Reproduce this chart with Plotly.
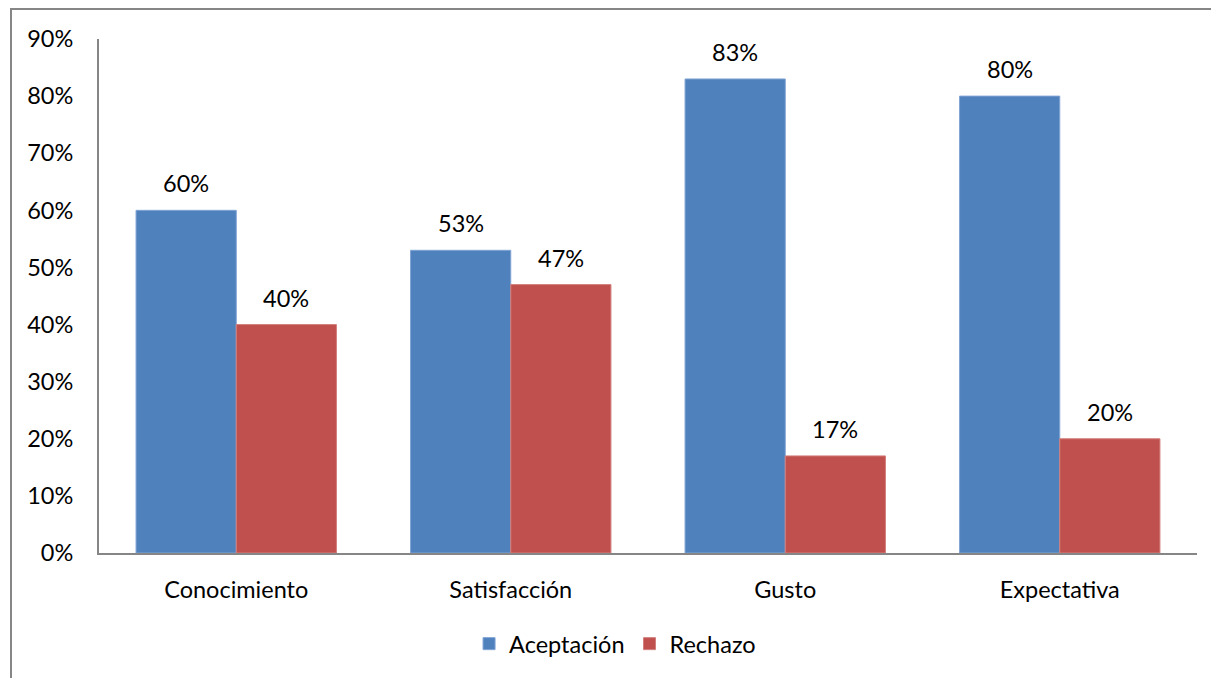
import plotly.graph_objects as go

categorias = ["Conocimiento", "Satisfacción", "Gusto", "Expectativa"]
aceptacion = [0.60, 0.53, 0.83, 0.80]
rechazo = [0.40, 0.47, 0.17, 0.20]
y_ticks = [0, 0.1, 0.2, 0.3, 0.4, 0.5, 0.6, 0.7, 0.8, 0.9]

W, H = 1211, 678
L, R, T, B = 99, 14, 39, 125
FONT = "Lato"
FS = 23.5

fig = go.Figure()
series = [("Aceptación", aceptacion, "#4F81BD", "#7FA3D3", -1),
          ("Rechazo", rechazo, "#C0504D", "#D27F7D", 1)]
for name, vals, col, edge, side in series:
    fig.add_trace(go.Bar(
        name=name, x=categorias, y=vals,
        marker=dict(color=col, line=dict(color=edge, width=1)),
    ))

pw = W - L - R
ph = H - T - B
bar_px = pw / len(categorias) * (1 - 0.27) / 2

# value labels above each bar
for name, vals, col, edge, side in series:
    for c, v in zip(categorias, vals):
        fig.add_annotation(x=c, y=v, text=f"{v:.0%}", showarrow=False,
                           xshift=side * bar_px / 2, yshift=27,
                           yanchor="middle", font=dict(size=FS, color="#000000"))

# outer chart frame
fig.add_shape(type="rect", xref="paper", yref="paper",
              x0=(11 - L) / pw, x1=(W + 5 - L) / pw,
              y0=-(H + 5 - T - ph) / ph, y1=(ph + T - 9) / ph,
              line=dict(color="#868686", width=2), layer="below")

fig.update_layout(
    width=W, height=H,
    margin=dict(l=L, r=R, t=T, b=B, autoexpand=False),
    paper_bgcolor="white", plot_bgcolor="white",
    barmode="group", bargap=0.27, bargroupgap=0,
    font=dict(family=FONT, size=FS, color="#000000"),
    showlegend=True,
    legend=dict(orientation="h", x=0.47, xanchor="center", y=-0.134, yanchor="top",
                font=dict(size=FS), itemwidth=30, tracegroupgap=0),
)
fig.update_xaxes(showline=True, linecolor="#868686", linewidth=2, ticks="",
                 showgrid=False, ticklabelstandoff=15, tickfont=dict(size=FS))
fig.update_yaxes(range=[0, 0.9], tickvals=y_ticks, tickformat=".0%",
                 showline=True, linecolor="#868686", linewidth=2, ticks="",
                 showgrid=False, zeroline=False, ticklabelstandoff=19,
                 tickfont=dict(size=FS))

fig.write_html("out.html")
